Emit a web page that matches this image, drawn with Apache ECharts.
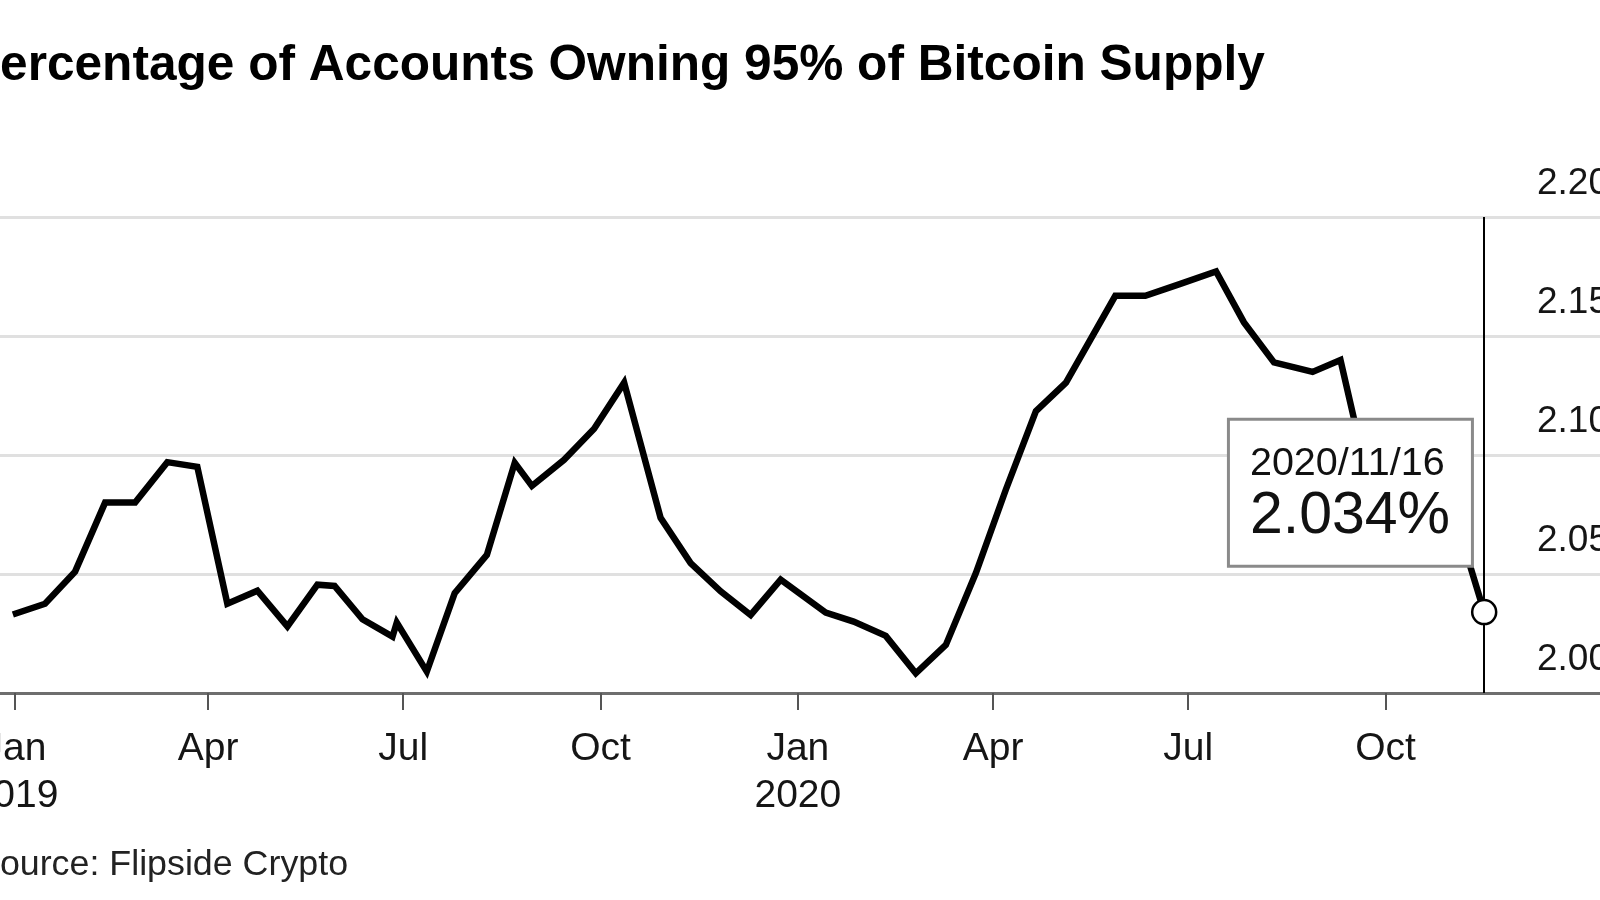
<!DOCTYPE html>
<html>
<head>
<meta charset="utf-8">
<script src="https://cdn.jsdelivr.net/npm/echarts@6/dist/echarts.min.js"></script>
<style>
  html, body { margin: 0; padding: 0; background: #fff; }
  #chart { width: 1600px; height: 900px; }
</style>
</head>
<body>
<div id="chart"></div>
<script>
// ---- data ----
const titleText = 'Percentage of Accounts Owning 95% of Bitcoin Supply';
const sourceText = 'Source: Flipside Crypto';

const dates = [
  '2018-12-31','2019-01-15','2019-01-29','2019-02-12','2019-02-26','2019-03-13','2019-03-27',
  '2019-04-10','2019-04-24','2019-05-08','2019-05-22','2019-05-30','2019-06-12','2019-06-26',
  '2019-06-28','2019-07-12','2019-07-25','2019-08-09','2019-08-22','2019-08-30','2019-09-14',
  '2019-09-28','2019-10-12','2019-10-29','2019-11-12','2019-11-26','2019-12-10','2019-12-24',
  '2020-01-14','2020-01-27','2020-02-11','2020-02-25','2020-03-10','2020-03-24','2020-04-07',
  '2020-04-21','2020-05-05','2020-05-28','2020-06-11','2020-06-27','2020-07-14','2020-07-27',
  '2020-08-10','2020-08-28','2020-09-10','2020-09-24','2020-10-08','2020-10-22','2020-11-09',
  '2020-11-16'
];
const values = [
  2.033, 2.0375, 2.051, 2.080, 2.080, 2.097, 2.095,
  2.0375, 2.043, 2.028, 2.0455, 2.045, 2.031, 2.0237,
  2.0296, 2.009, 2.042, 2.058, 2.0967, 2.087, 2.098,
  2.111, 2.1304, 2.0736, 2.0546, 2.0427, 2.0328, 2.0476,
  2.0338, 2.030, 2.024, 2.0083, 2.0202, 2.0504, 2.0855,
  2.1184, 2.1304, 2.1669, 2.1669, 2.1718, 2.1771, 2.1557,
  2.1389, 2.1349, 2.1399, 2.085, 2.068, 2.062, 2.0547,
  2.034
];

const tickDates = ['2019-01-01','2019-04-01','2019-07-01','2019-10-01','2020-01-01','2020-04-01','2020-07-01','2020-10-01'];
const tickLabels = ['Jan\n2019','Apr','Jul','Oct','Jan\n2020','Apr','Jul','Oct'];

const xRange = ['2018-12-25', '2021-01-09'];
const yMin = 2.00, yMax = 2.20, yStep = 0.05;

// ---- helpers ----
const ts = s => +new Date(s.replace(/-/g, '/'));
const tickValues = tickDates.map(ts);
const seriesData = dates.map((d, i) => [ts(d), values[i]]);
const lastDate = dates[dates.length - 1];
const lastValue = values[values.length - 1];
const FONT = "'Liberation Sans', Arial, Helvetica, sans-serif";

const chart = echarts.init(document.getElementById('chart'), null, { renderer: 'canvas' });

chart.setOption({
  animation: false,
  backgroundColor: '#ffffff',
  title: [
    {
      text: titleText,
      left: -33,
      top: 41,
      padding: 0,
      textStyle: { fontFamily: FONT, fontSize: 49.6, fontWeight: 'bold', color: '#000', lineHeight: 50 }
    },
    {
      text: sourceText,
      left: -24,
      top: 847,
      padding: 0,
      textStyle: { fontFamily: FONT, fontSize: 35.8, fontWeight: 'normal', color: '#222', lineHeight: 36 }
    }
  ],
  grid: { left: 0, right: 0, top: 217, bottom: 207, containLabel: false, outerBoundsMode: 'none' },
  xAxis: {
    type: 'value',
    min: ts(xRange[0]),
    max: ts(xRange[1]),
    axisLine: { show: true, lineStyle: { color: '#6e6e6e', width: 3 } },
    axisTick: {
      show: true,
      customValues: tickValues,
      length: 17,
      lineStyle: { color: '#555', width: 2 }
    },
    axisLabel: {
      show: true,
      customValues: tickValues,
      margin: 33,
      fontFamily: FONT,
      fontSize: 39,
      lineHeight: 47,
      color: '#151515',
      formatter: function (v) {
        const i = tickValues.indexOf(v);
        return i >= 0 ? tickLabels[i] : '';
      }
    },
    splitLine: { show: false }
  },
  yAxis: {
    type: 'value',
    position: 'right',
    min: yMin,
    max: yMax,
    interval: yStep,
    axisLine: { show: false },
    axisTick: { show: false },
    axisLabel: {
      inside: true,
      margin: 63,
      align: 'left',
      verticalAlign: 'bottom',
      lineHeight: 36,
      padding: [0, 0, 15, 0],
      fontFamily: FONT,
      fontSize: 37,
      color: '#151515',
      formatter: v => v.toFixed(2)
    },
    splitLine: { show: true, lineStyle: { color: '#e0e0e0', width: 3 } }
  },
  series: [
    {
      type: 'line',
      data: seriesData,
      showSymbol: false,
      smooth: false,
      lineStyle: { color: '#000', width: 6.5, join: 'miter' },
      z: 2,
      markLine: {
        silent: true,
        z: 4,
        symbol: ['none', 'none'],
        label: { show: false },
        lineStyle: { color: '#000', width: 2, type: 'solid' },
        data: [{ xAxis: ts(lastDate) }]
      },
      markPoint: {
        z: 10,
        symbol: 'circle',
        symbolSize: 24,
        itemStyle: { color: '#fff', borderColor: '#000', borderWidth: 2.5 },
        label: {
          show: true,
          position: [-241, -178],
          align: 'left',
          verticalAlign: 'top',
          backgroundColor: '#fff',
          borderColor: '#8a8a8a',
          borderWidth: 3,
          padding: [19, 20, 19, 20],
          width: 201,
          formatter: function () {
            return '{d|' + lastDate.replace(/-/g, '/') + '}\n{v|' + lastValue.toFixed(3) + '%}';
          },
          rich: {
            d: { fontFamily: FONT, fontSize: 39.5, lineHeight: 48, color: '#111' },
            v: { fontFamily: FONT, fontSize: 59, lineHeight: 58, color: '#111' }
          }
        },
        data: [{ coord: [ts(lastDate), lastValue] }]
      }
    }
  ]
});
</script>
</body>
</html>
